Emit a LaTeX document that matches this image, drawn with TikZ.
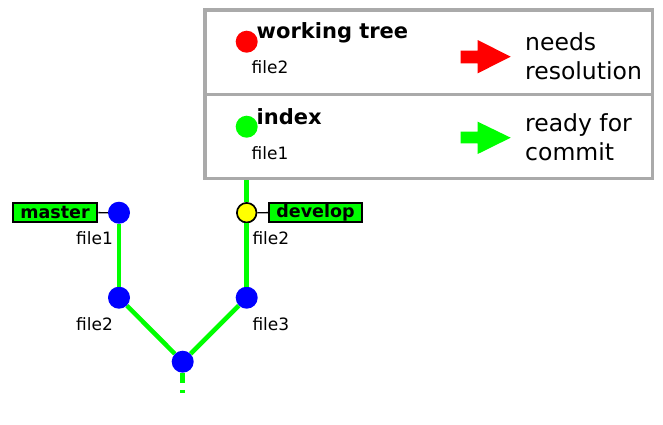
\documentclass[tikz,border=0pt]{standalone}
\usepackage{fontspec}
\setmainfont{DejaVu Sans}
\definecolor{cgreen}{RGB}{0,255,0}
\definecolor{cred}{RGB}{255,0,0}
\definecolor{cblue}{RGB}{0,0,255}
\definecolor{cyellow}{RGB}{255,255,0}
\definecolor{cgray}{RGB}{170,170,170}
\newcommand\figsmall{\fontsize{17}{20}\selectfont}
\newcommand\fighead{\fontsize{21}{24}\bfseries\selectfont}
\newcommand\figlegend{\fontsize{23.5}{28.5}\selectfont}
\newcommand\figlabel{\fontsize{17.5}{20}\bfseries\selectfont}
\begin{document}
\begin{tikzpicture}[x=1pt,y=-1pt,
  commit/.style={circle, fill=cblue, minimum size=22pt, inner sep=0pt},
  headcommit/.style={circle, fill=cyellow, draw=black, line width=1.7pt, minimum size=19.6pt, inner sep=0pt},
  refbox/.style={rectangle, fill=cgreen, draw=black, line width=2pt, minimum height=19.6pt, inner sep=0pt, font=\figlabel},
  refline/.style={draw=black, line width=1.3pt},
  gline/.style={draw=cgreen, line width=4.5pt},
  panel/.style={rectangle, draw=cgray, line width=3.4pt, minimum width=447.3pt, inner sep=0pt},
  dot/.style={circle, minimum size=22pt, inner sep=0pt},
  smalltext/.style={anchor=base west, inner sep=0pt, font=\figsmall},
  headtext/.style={anchor=base west, inner sep=0pt, font=\fighead},
  legendtext/.style={anchor=base west, inner sep=0pt, font=\figlegend, align=left}
]
\useasboundingbox[fill=white] (0,0) rectangle (663,424);

% legend panels
\node[panel, minimum height=84.3pt] (wt) at (428.65,52.15) {};
\node[panel, minimum height=84pt] (idx) at (428.65,136.3) {};

\node[dot, fill=cred] (reddot) at (246.7,41.7) {};
\node[headtext] (wtlabel) at (256.5,38) {working tree};
\node[smalltext] (wtfile) at (251.5,73.3) {file2};
\fill[cred] (460.7,50.7) -- (477.7,50.7) -- (477.7,40) -- (510.7,56.7) -- (477.7,73.3) -- (477.7,63.3) -- (460.7,63.3) -- cycle;
\node[legendtext] (needs) at (525,79) {needs\\resolution};

\node[dot, fill=cgreen] (greendot) at (246.7,126.7) {};
\node[headtext] (idxlabel) at (256.5,124) {index};
\node[smalltext] (idxfile) at (251.5,159) {file1};
\fill[cgreen] (460.7,131.7) -- (477.7,131.7) -- (477.7,121.7) -- (510.7,137.7) -- (477.7,154) -- (477.7,143.3) -- (460.7,143.3) -- cycle;
\node[legendtext] (ready) at (525,160) {ready for\\commit};

% commit graph
\node[commit] (m1) at (119,212.7) {};
\node[commit] (m2) at (119,297.7) {};
\node[headcommit] (d1) at (246.7,212.7) {};
\node[commit] (d2) at (246.7,297.7) {};
\node[commit] (base) at (182.7,361.7) {};
\coordinate (tail) at (182.7,393.3);

\draw[gline] (m1) -- (m2);
\draw[gline] (m2) -- (base);
\draw[gline] (base) -- (d2);
\draw[gline] (d2) -- (d1);
\draw[gline] (d1) -- (idx.south -| d1);
\draw[gline, dash pattern=on 10pt off 7pt] (base) -- (tail);

\node[refbox, minimum width=84.6pt] (master) at (55,212.5) {master};
\node[refbox, minimum width=92.4pt] (develop) at (315.5,212.5) {develop};
\draw[refline] (master) -- (m1);
\draw[refline] (develop) -- (d1);

\node[smalltext] (f1) at (76,244.3) {file1};
\node[smalltext] (f2a) at (252.3,244.3) {file2};
\node[smalltext] (f2b) at (76,330) {file2};
\node[smalltext] (f3) at (252.3,330) {file3};
\end{tikzpicture}
\end{document}
